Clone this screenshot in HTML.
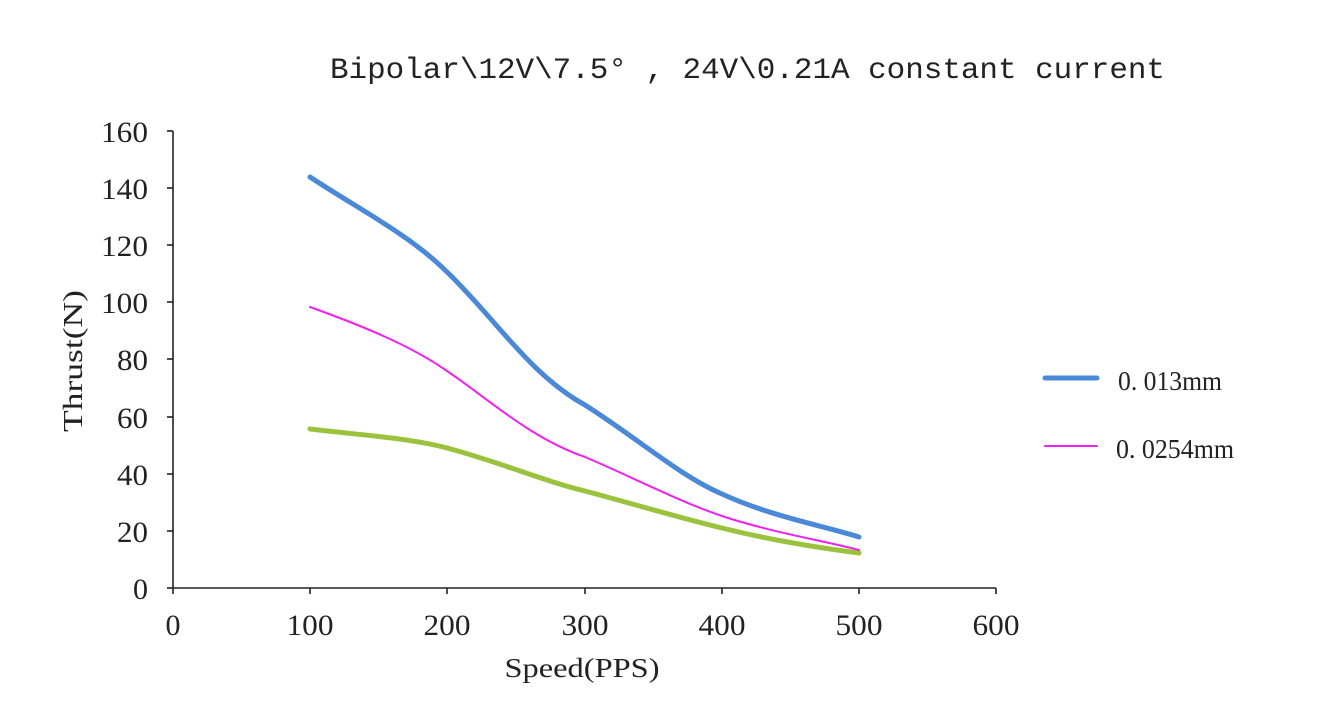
<!DOCTYPE html>
<html><head><meta charset="utf-8"><style>body{margin:0;background:#fff}svg{display:block}</style></head>
<body>
<svg width="1318" height="718" viewBox="0 0 1318 718" xmlns="http://www.w3.org/2000/svg" font-family="'Liberation Serif',serif" fill="#222">
<text x="330" y="78" font-family="'Liberation Mono',monospace" font-size="30" textLength="835" lengthAdjust="spacingAndGlyphs">Bipolar\12V\7.5° , 24V\0.21A constant current</text>
<g stroke="#222" stroke-width="1.6" fill="none">
<line x1="173" y1="131" x2="173" y2="588"/>
<line x1="173" y1="588" x2="996" y2="588"/>
<line x1="167" y1="131" x2="173" y2="131"/><line x1="167" y1="188" x2="173" y2="188"/><line x1="167" y1="245" x2="173" y2="245"/><line x1="167" y1="302" x2="173" y2="302"/><line x1="167" y1="359" x2="173" y2="359"/><line x1="167" y1="417" x2="173" y2="417"/><line x1="167" y1="474" x2="173" y2="474"/><line x1="167" y1="531" x2="173" y2="531"/><line x1="167" y1="588" x2="173" y2="588"/>
<line x1="173" y1="588" x2="173" y2="594"/><line x1="310" y1="588" x2="310" y2="594"/><line x1="447" y1="588" x2="447" y2="594"/><line x1="585" y1="588" x2="585" y2="594"/><line x1="722" y1="588" x2="722" y2="594"/><line x1="859" y1="588" x2="859" y2="594"/><line x1="996" y1="588" x2="996" y2="594"/>
</g>
<g font-size="30" text-anchor="end">
<text x="148" y="142" textLength="47" lengthAdjust="spacingAndGlyphs">160</text><text x="148" y="199" textLength="47" lengthAdjust="spacingAndGlyphs">140</text><text x="148" y="256" textLength="47" lengthAdjust="spacingAndGlyphs">120</text><text x="148" y="313" textLength="47" lengthAdjust="spacingAndGlyphs">100</text><text x="148" y="370" textLength="31" lengthAdjust="spacingAndGlyphs">80</text><text x="148" y="428" textLength="31" lengthAdjust="spacingAndGlyphs">60</text><text x="148" y="485" textLength="31" lengthAdjust="spacingAndGlyphs">40</text><text x="148" y="542" textLength="31" lengthAdjust="spacingAndGlyphs">20</text><text x="148" y="599" textLength="15" lengthAdjust="spacingAndGlyphs">0</text>
</g>
<g font-size="30" text-anchor="middle">
<text x="173" y="635" textLength="15" lengthAdjust="spacingAndGlyphs">0</text><text x="310" y="635" textLength="47" lengthAdjust="spacingAndGlyphs">100</text><text x="447" y="635" textLength="47" lengthAdjust="spacingAndGlyphs">200</text><text x="585" y="635" textLength="47" lengthAdjust="spacingAndGlyphs">300</text><text x="722" y="635" textLength="47" lengthAdjust="spacingAndGlyphs">400</text><text x="859" y="635" textLength="47" lengthAdjust="spacingAndGlyphs">500</text><text x="996" y="635" textLength="47" lengthAdjust="spacingAndGlyphs">600</text>
</g>
<text x="582" y="677" font-size="27" text-anchor="middle" textLength="155" lengthAdjust="spacingAndGlyphs">Speed(PPS)</text>
<text transform="translate(82,361) rotate(-90)" font-size="27" text-anchor="middle" textLength="142" lengthAdjust="spacingAndGlyphs">Thrust(N)</text>
<g fill="none" stroke-linecap="round">
<path d="M310,429 C360,435 410,438 447,448 C500,462 540,480 585,491 C630,503 680,518 722,528 C770,540 820,548 859,553" stroke="#9bc23c" stroke-width="5"/>
<path d="M310,307 C360,325 410,345 447,371 C490,400 530,438 585,457 C630,476 680,502 722,516 C770,532 820,540 859,550" stroke="#f020f0" stroke-width="2"/>
<path d="M310,177 C360,210 410,235 447,272 C495,318 530,375 585,405 C640,440 680,476 722,494 C770,516 820,525 859,537" stroke="#4a88d8" stroke-width="5"/>
<line x1="1045" y1="378" x2="1097" y2="378" stroke="#4a88d8" stroke-width="5"/>
<line x1="1045" y1="446" x2="1097" y2="446" stroke="#f020f0" stroke-width="2"/>
</g>
<text x="1118" y="390" font-size="27" textLength="104" lengthAdjust="spacingAndGlyphs">0. 013mm</text>
<text x="1116" y="458" font-size="27" textLength="118" lengthAdjust="spacingAndGlyphs">0. 0254mm</text>
</svg>
</body></html>
